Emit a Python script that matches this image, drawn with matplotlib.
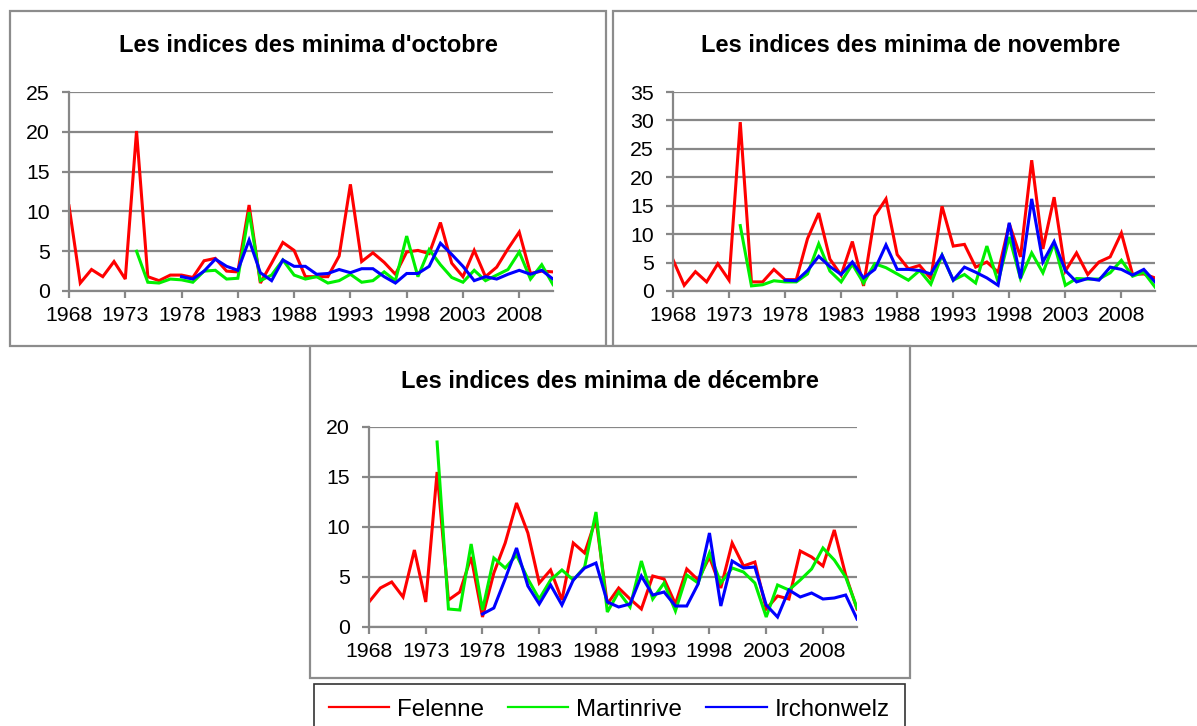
import numpy as np
import matplotlib
matplotlib.use("Agg")
import matplotlib.pyplot as plt
from matplotlib.patches import Rectangle
from matplotlib.lines import Line2D

plt.rcParams["font.family"] = ["Liberation Sans", "DejaVu Sans"]

years = np.arange(1968, 2012)
nan = np.nan

# October
oct_felenne = [10.7, 1.0, 2.7, 1.8, 3.7, 1.5, 20.1, 1.8, 1.3, 2.0, 2.0, 1.7, 3.8, 4.1, 2.5, 2.4,
               10.8, 1.0, 3.5, 6.1, 5.1, 1.8, 1.8, 1.8, 4.4, 13.4, 3.7, 4.8, 3.6, 2.1, 4.9, 5.1,
               4.7, 8.6, 3.5, 1.8, 5.1, 1.8, 3.0, 5.3, 7.4, 2.2, 2.5, 2.4]
oct_martinrive = [nan] * 6 + [5.0, 1.1, 1.0, 1.5, 1.4, 1.1, 2.5, 2.6, 1.5, 1.6, 9.9, 1.3, 2.0, 3.9,
                              2.0, 1.5, 1.8, 1.0, 1.3, 2.1, 1.1, 1.3, 2.4, 1.3, 6.9, 1.8, 5.2, 3.3,
                              1.7, 1.1, 2.6, 1.3, 2.0, 2.7, 4.9, 1.5, 3.3, 0.8]
oct_irchonwelz = [nan] * 10 + [1.8, 1.5, 2.5, 4.0, 3.1, 2.6, 6.4, 2.3, 1.3, 3.9, 3.1, 3.1, 2.1, 2.2,
                               2.7, 2.3, 2.8, 2.8, 1.8, 1.0, 2.2, 2.2, 3.1, 6.0, 4.6, 3.1, 1.3, 1.8,
                               1.5, 2.1, 2.6, 2.1, 2.6, 1.5]

# November
nov_felenne = [5.5, 1.0, 3.4, 1.6, 4.8, 1.9, 29.7, 1.6, 1.6, 3.8, 2.0, 2.0, 9.2, 13.7, 5.6, 2.8,
               8.7, 0.9, 13.2, 16.2, 6.4, 3.9, 4.5, 2.2, 14.9, 7.9, 8.2, 4.2, 5.1, 3.3, 11.8, 6.0,
               23.0, 7.4, 16.5, 3.5, 6.7, 2.9, 5.1, 6.0, 10.2, 2.9, 3.0, 2.3]
nov_martinrive = [nan] * 6 + [11.5, 0.9, 1.1, 1.8, 1.6, 1.6, 3.0, 8.3, 3.5, 1.6, 4.7, 1.4, 4.8, 4.1,
                              3.0, 1.9, 3.6, 1.2, 6.3, 1.9, 2.9, 1.4, 7.9, 1.6, 9.5, 2.2, 6.7, 3.2,
                              8.4, 1.0, 2.2, 2.1, 2.1, 3.2, 5.4, 2.6, 3.3, 0.7]
nov_irchonwelz = [nan] * 10 + [1.9, 1.8, 3.6, 6.1, 4.3, 2.9, 5.1, 2.3, 3.8, 8.1, 3.8, 3.8, 3.6, 3.0,
                               6.3, 1.9, 4.2, 3.3, 2.3, 1.0, 12.0, 2.2, 16.2, 5.1, 8.7, 3.6, 1.6, 2.2,
                               1.9, 4.2, 3.8, 2.8, 3.8, 1.6]

# December
dec_felenne = [2.5, 3.9, 4.5, 3.0, 7.7, 2.5, 15.5, 2.7, 3.5, 7.0, 1.0, 5.4, 8.4, 12.4, 9.4, 4.4,
               5.7, 2.7, 8.4, 7.4, 10.8, 2.3, 3.9, 2.8, 1.8, 5.1, 4.8, 2.3, 5.8, 4.7, 7.0, 3.9,
               8.4, 6.1, 6.5, 1.8, 3.1, 2.8, 7.6, 7.0, 6.1, 9.7, 5.2, 1.8]
dec_martinrive = [nan] * 6 + [18.5, 1.8, 1.7, 8.3, 1.7, 6.9, 5.9, 7.2, 4.8, 2.8, 4.7, 5.7, 4.7, 6.0,
                              11.5, 1.5, 3.5, 2.0, 6.6, 2.8, 4.4, 1.6, 5.2, 4.4, 7.4, 4.4, 5.9, 5.5,
                              4.4, 1.0, 4.2, 3.7, 4.7, 5.8, 7.9, 6.7, 5.0, 1.9]
dec_irchonwelz = [nan] * 10 + [1.3, 1.9, 4.8, 7.9, 4.1, 2.3, 4.2, 2.2, 4.7, 5.9, 6.4, 2.5, 2.0, 2.3,
                               5.1, 3.2, 3.5, 2.1, 2.1, 4.3, 9.4, 2.1, 6.6, 5.9, 6.0, 2.2, 1.0, 3.7,
                               3.0, 3.4, 2.8, 2.9, 3.2, 0.8]

station_names = ["Felenne", "Martinrive", "Irchonwelz"]
colors = ["#ff0000", "#00f000", "#0000ff"]

W, H = 1197, 726
fig = plt.figure(figsize=(W / 100, H / 100), dpi=100)


def px_rect(x0, y0, x1, y1):
    # pixel box (top-left origin) -> figure fraction
    return [x0 / W, 1 - y1 / H, (x1 - x0) / W, (y1 - y0) / H]


# chart frames, kept behind the axes
for (x0, y0, x1, y1) in [(10, 11, 606, 346), (613, 11, 1205, 346), (310, 346, 910, 678)]:
    fig.patches.append(Rectangle((x0 / W, 1 - y1 / H), (x1 - x0) / W, (y1 - y0) / H,
                                 transform=fig.transFigure, fill=True, facecolor="white",
                                 edgecolor="#8c8c8c", linewidth=1.6, zorder=-5))

panels = [
    ("Les indices des minima d'octobre", (69, 92, 553, 291), 25,
     [oct_felenne, oct_martinrive, oct_irchonwelz], 308),
    ("Les indices des minima de novembre", (673, 92, 1155, 291), 35,
     [nov_felenne, nov_martinrive, nov_irchonwelz], 911),
    ("Les indices des minima de décembre", (369, 427, 857, 627), 20,
     [dec_felenne, dec_martinrive, dec_irchonwelz], 610),
]

for title, box, ymax, series, title_x in panels:
    ax = fig.add_axes(px_rect(*box))
    ax.set_zorder(2)
    ax.patch.set_alpha(0)
    for vals, c in zip(series, colors):
        ax.plot(years, vals, color=c, lw=2.2, solid_joinstyle="miter")
    ax.set_xlim(1968, 2011)
    ax.set_ylim(0, ymax)
    ax.set_xticks(np.arange(1968, 2012, 5))
    ax.set_yticks(np.arange(0, ymax + 1, 5))
    ax.grid(axis="y", color="#878787", lw=1.6)
    ax.set_axisbelow(True)
    for s in ["top", "right"]:
        ax.spines[s].set_visible(False)
    for s in ["left", "bottom"]:
        ax.spines[s].set_color("#878787")
        ax.spines[s].set_linewidth(1.6)
    ax.tick_params(axis="both", colors="#878787", labelcolor="black", labelsize=15.3,
                   length=5, width=1.6)
    ax.tick_params(axis="y", pad=9)
    ax.tick_params(axis="x", pad=6)
    ty = box[1] - 46
    fig.text(title_x / W, 1 - ty / H, title, ha="center", va="center",
             fontsize=17, fontweight="bold", zorder=3)

handles = [Line2D([], [], color=c, lw=1.6) for c in colors]
leg = fig.legend(handles, station_names, loc="upper left",
                 bbox_to_anchor=(314 / W, 1 - 684 / H), ncol=3, fontsize=17.4,
                 frameon=True, fancybox=False, handlelength=2.5, handletextpad=0.33,
                 columnspacing=1.0, borderpad=0.6, borderaxespad=0)
leg.get_frame().set_edgecolor("black")
leg.get_frame().set_linewidth(1.2)

fig.savefig("out.png", dpi=100)
